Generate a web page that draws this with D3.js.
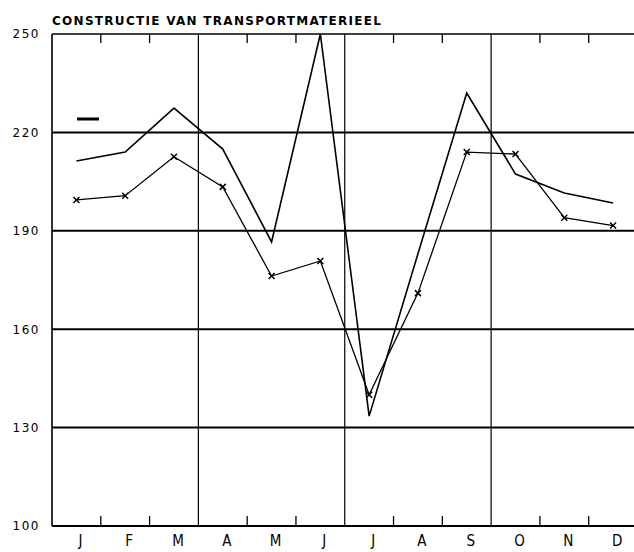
<!DOCTYPE html>
<html>
<head>
<meta charset="utf-8">
<script src="https://cdn.jsdelivr.net/npm/d3@7"></script>
<style>
  html, body { margin: 0; padding: 0; background: #fff; }
  svg { display: block; }
</style>
</head>
<body>
<script>
const months = ["J","F","M","A","M","J","J","A","S","O","N","D"];
const seriesPlain = [211.3, 214, 227.4, 214.9, 186.6, 250, 133.5, 183, 232, 207.3, 201.5, 198.5];
const seriesMarked = [199.4, 200.7, 212.6, 203.4, 176.2, 180.8, 140, 171, 214, 213.4, 194, 191.6];
const yTicks = [100, 130, 160, 190, 220, 250];
const title = "CONSTRUCTIE VAN TRANSPORTMATERIEEL";

const W = 634, H = 552;
const svg = d3.select("body").append("svg").attr("width", W).attr("height", H);

const x = d3.scaleLinear().domain([0, 12]).range([52, 637.5]);
const y = d3.scaleLinear().domain([100, 250]).range([526, 34]);

// Title
svg.append("text")
  .attr("x", 52).attr("y", 25)
  .attr("font-family", "DejaVu Sans")
  .attr("font-weight", "bold")
  .attr("font-size", 12)
  .attr("textLength", 329)
  .attr("lengthAdjust", "spacing")
  .text(title);

// Horizontal grid lines
svg.append("g").selectAll("line").data(yTicks).join("line")
  .attr("x1", x(0)).attr("x2", W)
  .attr("y1", d => y(d)).attr("y2", d => y(d))
  .attr("stroke", "#000")
  .attr("stroke-width", d => (d === 250 ? 1.6 : 2));

// Left axis line
svg.append("line")
  .attr("x1", x(0)).attr("x2", x(0))
  .attr("y1", y(250)).attr("y2", y(100))
  .attr("stroke", "#000").attr("stroke-width", 1.6);

// Quarter vertical lines
svg.append("g").selectAll("line").data([3, 6, 9]).join("line")
  .attr("x1", d => x(d)).attr("x2", d => x(d))
  .attr("y1", y(250)).attr("y2", y(100))
  .attr("stroke", "#000").attr("stroke-width", 1.2);

// Month boundary ticks (top and bottom)
const monthTicks = d3.range(1, 12).filter(d => d % 3 !== 0);
svg.append("g").selectAll("line").data(monthTicks).join("line")
  .attr("x1", d => x(d)).attr("x2", d => x(d))
  .attr("y1", y(250)).attr("y2", y(250) + 9)
  .attr("stroke", "#000").attr("stroke-width", 1.3);
svg.append("g").selectAll("line").data(monthTicks).join("line")
  .attr("x1", d => x(d)).attr("x2", d => x(d))
  .attr("y1", y(100)).attr("y2", y(100) - 10)
  .attr("stroke", "#000").attr("stroke-width", 1.3);

// Y labels
svg.append("g").selectAll("text").data(yTicks).join("text")
  .attr("x", 40).attr("y", d => y(d))
  .attr("dy", "0.36em")
  .attr("text-anchor", "end")
  .attr("font-family", "DejaVu Sans")
  .attr("font-size", 12)
  .attr("letter-spacing", 1.5)
  .text(d => d);

// X labels
svg.append("g").selectAll("text").data(months).join("text")
  .attr("x", (d, i) => x(i + 0.5) + 4).attr("y", 546)
  .attr("text-anchor", "middle")
  .attr("font-family", "DejaVu Sans Condensed, DejaVu Sans")
  .attr("font-size", 15)
  .text(d => d);

// Lines
const line = d3.line().x((d, i) => x(i + 0.5)).y(d => y(d));
svg.append("path").datum(seriesPlain)
  .attr("d", line).attr("fill", "none")
  .attr("stroke", "#000").attr("stroke-width", 1.6)
  .attr("stroke-linejoin", "miter");
svg.append("path").datum(seriesMarked)
  .attr("d", line).attr("fill", "none")
  .attr("stroke", "#000").attr("stroke-width", 1.3);

// X markers
const ms = 3;
const mk = svg.append("g").selectAll("g").data(seriesMarked).join("g")
  .attr("transform", (d, i) => `translate(${x(i + 0.5)},${y(d)})`);
mk.append("line").attr("x1", -ms).attr("y1", -ms).attr("x2", ms).attr("y2", ms)
  .attr("stroke", "#000").attr("stroke-width", 1.5);
mk.append("line").attr("x1", -ms).attr("y1", ms).attr("x2", ms).attr("y2", -ms)
  .attr("stroke", "#000").attr("stroke-width", 1.5);

// Legend dash
svg.append("line")
  .attr("x1", 77).attr("x2", 99).attr("y1", 119).attr("y2", 119)
  .attr("stroke", "#000").attr("stroke-width", 3);
</script>
</body>
</html>
